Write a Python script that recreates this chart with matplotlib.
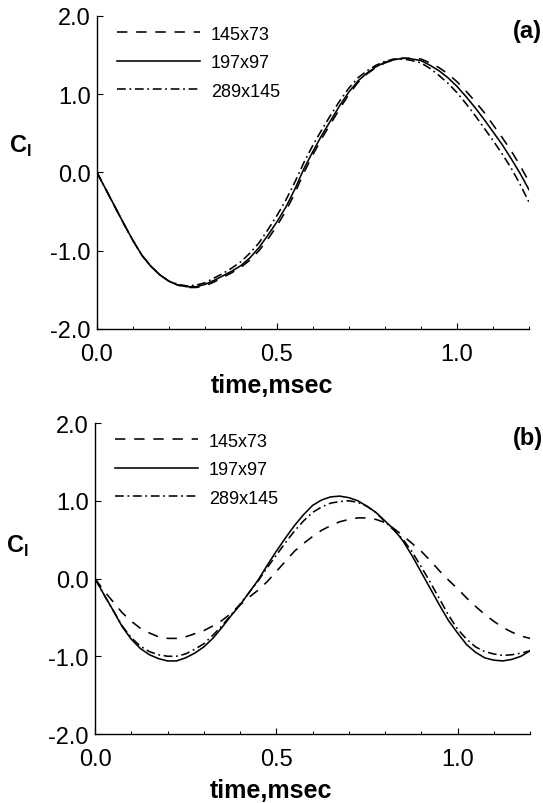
import numpy as np
import matplotlib
matplotlib.use("Agg")
from matplotlib import pyplot as plt
from matplotlib.ticker import MultipleLocator, FormatStrFormatter

plt.rcParams['font.family'] = ['Liberation Sans', 'DejaVu Sans']
plt.rcParams['axes.unicode_minus'] = False
plt.rcParams['mathtext.fontset'] = 'custom'
plt.rcParams['mathtext.bf'] = 'Liberation Sans:bold'
plt.rcParams['mathtext.rm'] = 'Liberation Sans'

labels = ["145x73", "197x97", "289x145"]

# time, msec (0 to 1.2 in steps of 0.025)
time = [0.000, 0.025, 0.050, 0.075, 0.100, 0.125, 0.150, 0.175, 0.200, 0.225,
        0.250, 0.275, 0.300, 0.325, 0.350, 0.375, 0.400, 0.425, 0.450, 0.475,
        0.500, 0.525, 0.550, 0.575, 0.600, 0.625, 0.650, 0.675, 0.700, 0.725,
        0.750, 0.775, 0.800, 0.825, 0.850, 0.875, 0.900, 0.925, 0.950, 0.975,
        1.000, 1.025, 1.050, 1.075, 1.100, 1.125, 1.150, 1.175, 1.200]

# panel (a)
a_145 = [0.00, -0.22, -0.44, -0.66, -0.87, -1.06, -1.20, -1.31, -1.39, -1.44,
         -1.47, -1.47, -1.45, -1.40, -1.34, -1.28, -1.21, -1.12, -1.00, -0.85,
         -0.68, -0.49, -0.26, 0.00, 0.23, 0.44, 0.63, 0.82, 1.00, 1.15,
         1.26, 1.34, 1.40, 1.44, 1.46, 1.46, 1.45, 1.40, 1.34, 1.26,
         1.16, 1.04, 0.91, 0.77, 0.61, 0.45, 0.28, 0.09, -0.12]
a_197 = [0.00, -0.22, -0.44, -0.66, -0.87, -1.06, -1.20, -1.31, -1.39, -1.44,
         -1.46, -1.46, -1.43, -1.38, -1.32, -1.26, -1.19, -1.09, -0.96, -0.80,
         -0.63, -0.44, -0.21, 0.05, 0.27, 0.48, 0.67, 0.86, 1.03, 1.17,
         1.27, 1.35, 1.41, 1.44, 1.46, 1.45, 1.43, 1.37, 1.30, 1.21,
         1.10, 0.97, 0.83, 0.68, 0.52, 0.36, 0.18, -0.01, -0.22]
a_289 = [0.00, -0.22, -0.44, -0.66, -0.87, -1.06, -1.20, -1.31, -1.39, -1.43,
         -1.45, -1.44, -1.41, -1.35, -1.29, -1.22, -1.14, -1.03, -0.90, -0.73,
         -0.55, -0.35, -0.12, 0.13, 0.35, 0.55, 0.74, 0.92, 1.08, 1.21,
         1.30, 1.37, 1.42, 1.45, 1.45, 1.43, 1.40, 1.33, 1.24, 1.14,
         1.02, 0.88, 0.73, 0.57, 0.41, 0.24, 0.06, -0.15, -0.38]

# panel (b)
b_145 = [0.00, -0.16, -0.30, -0.44, -0.55, -0.64, -0.70, -0.75, -0.77, -0.77,
         -0.75, -0.71, -0.67, -0.61, -0.54, -0.45, -0.34, -0.24, -0.15, -0.04,
         0.09, 0.22, 0.35, 0.45, 0.54, 0.62, 0.68, 0.73, 0.76, 0.78,
         0.78, 0.76, 0.72, 0.64, 0.55, 0.45, 0.35, 0.23, 0.10, -0.02,
         -0.13, -0.25, -0.36, -0.46, -0.55, -0.63, -0.69, -0.74, -0.77]
b_197 = [0.00, -0.21, -0.41, -0.62, -0.78, -0.90, -0.98, -1.03, -1.06, -1.06,
         -1.02, -0.96, -0.88, -0.77, -0.63, -0.48, -0.34, -0.18, -0.02, 0.17,
         0.35, 0.52, 0.68, 0.82, 0.94, 1.01, 1.05, 1.06, 1.04, 1.00,
         0.93, 0.85, 0.74, 0.63, 0.48, 0.29, 0.08, -0.13, -0.34, -0.54,
         -0.70, -0.85, -0.95, -1.02, -1.05, -1.06, -1.04, -1.00, -0.93]
b_289 = [0.00, -0.21, -0.41, -0.61, -0.76, -0.87, -0.94, -0.98, -1.00, -1.00,
         -0.97, -0.91, -0.84, -0.73, -0.61, -0.47, -0.33, -0.18, -0.03, 0.14,
         0.30, 0.46, 0.61, 0.74, 0.85, 0.92, 0.97, 0.99, 1.00, 0.98,
         0.93, 0.85, 0.73, 0.62, 0.50, 0.34, 0.15, -0.05, -0.26, -0.47,
         -0.65, -0.78, -0.88, -0.94, -0.97, -0.99, -0.98, -0.96, -0.93]

fig = plt.figure(figsize=(5.43, 8.04), dpi=100)
ax1 = fig.add_axes([0.1786, 0.5896, 0.7956, 0.3893])
ax2 = fig.add_axes([0.1750, 0.0858, 0.8011, 0.3868])

panels = [(ax1, [a_145, a_197, a_289], "(a)", 0.588),
          (ax2, [b_145, b_197, b_289], "(b)", 0.605)]

for ax, series, tag, ylab_y in panels:
    ax.plot(time, series[0], color='black', lw=1.15, dashes=[6.5, 5.5], label=labels[0])
    ax.plot(time, series[1], color='black', lw=1.15, label=labels[1])
    ax.plot(time, series[2], color='black', lw=1.15, dashes=[5.5, 2.3, 1.1, 2.3], label=labels[2])

    ax.set_xlim(0, 1.2)
    ax.set_ylim(-2, 2)
    ax.spines['top'].set_visible(False)
    ax.spines['right'].set_visible(False)
    ax.spines['left'].set_linewidth(1.0)
    ax.spines['bottom'].set_linewidth(1.0)

    ax.xaxis.set_major_locator(MultipleLocator(0.5))
    ax.xaxis.set_minor_locator(MultipleLocator(0.1))
    ax.yaxis.set_major_locator(MultipleLocator(1.0))
    ax.xaxis.set_major_formatter(FormatStrFormatter('%.1f'))
    ax.yaxis.set_major_formatter(FormatStrFormatter('%.1f'))
    ax.tick_params(axis='x', which='major', direction='in', length=4.5, width=0.8,
                   labelsize=17, pad=10)
    ax.tick_params(axis='x', which='minor', direction='in', length=2.2, width=0.7)
    ax.tick_params(axis='y', which='major', direction='in', length=4, width=0.8,
                   labelsize=17, pad=4.5)

    ax.set_xlabel("time,msec", fontsize=18, fontweight='bold')
    ax.xaxis.set_label_coords(0.404, -0.14)
    ax.set_ylabel(r"$\mathbf{C}_\mathbf{l}$", fontsize=17, rotation=0,
                  ha='center', va='center')
    ax.yaxis.set_label_coords(-0.178, ylab_y)

    ax.text(1.03, 0.955, tag, transform=ax.transAxes, fontsize=17,
            fontweight='bold', ha='right', va='center')

    ax.legend(loc='upper left', bbox_to_anchor=(0.046, 0.969), frameon=False,
              fontsize=13, handlelength=4.6, handletextpad=0.6,
              labelspacing=0.64, borderpad=0, borderaxespad=0)

fig.savefig("out.png", dpi=100)
